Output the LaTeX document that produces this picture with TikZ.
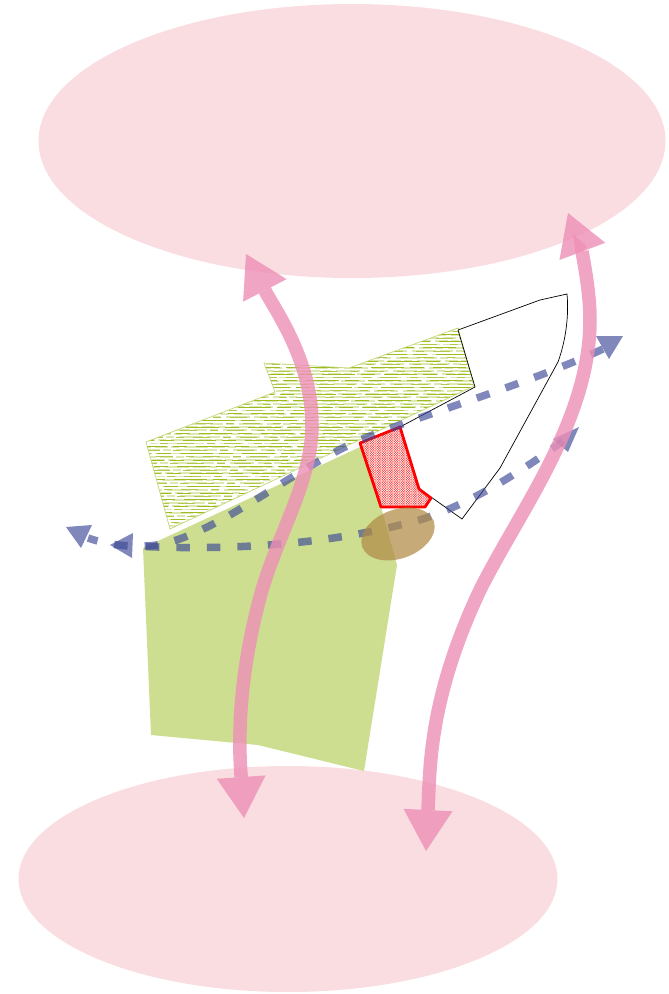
\documentclass[tikz,border=0pt]{standalone}
\usetikzlibrary{arrows.meta,patterns}
\definecolor{blobpink}{HTML}{FADDE1}
\definecolor{leaf}{HTML}{CDDE91}
\definecolor{hatchg}{HTML}{9CBC20}
\definecolor{arrowpink}{HTML}{EE8FB6}
\definecolor{dashblue}{HTML}{3C4896}
\definecolor{brown}{HTML}{B08A45}
\pgfdeclarepatternformonly{finedots}{\pgfqpoint{-0.2pt}{-0.2pt}}{\pgfqpoint{2.2pt}{2.2pt}}{\pgfqpoint{2.4pt}{2.4pt}}{%
  \pgfpathrectangle{\pgfqpoint{0pt}{0pt}}{\pgfqpoint{1.2pt}{1.2pt}}%
  \pgfpathrectangle{\pgfqpoint{1.2pt}{1.2pt}}{\pgfqpoint{1.2pt}{1.2pt}}%
  \pgfusepath{fill}}
\tikzset{
  blob/.style={fill=blobpink,draw=none},
  pinkarrow/.style={draw=arrowpink,line width=13.5pt,draw opacity=.8,fill opacity=.8,
    {Triangle[width=49pt,length=41pt,fill=arrowpink,line width=0pt]}-{Triangle[width=49pt,length=41pt,fill=arrowpink,line width=0pt]}},
  bluedash/.style={draw=dashblue,line width=7.5pt,draw opacity=.65,dash pattern=on 13.5pt off 17pt},
  bluehead/.style={draw=none,fill=dashblue,fill opacity=.65},
}
\begin{document}
\begin{tikzpicture}[x=1pt,y=-1pt]
\useasboundingbox (0,0) rectangle (669,994);
% pink blobs
\fill[blob] (352,141) ellipse [x radius=313.5,y radius=137];
\fill[blob] (288,879) ellipse [x radius=269.5,y radius=113];
% green field
\fill[leaf] (143,548) -- (360,447) -- (381,507) -- (397,565) -- (364,771) -- (258,745) -- (151,735) -- cycle;
% hatched field
\begin{scope}
\clip (146,442) -- (275,392) -- (264,363) -- (349,368) -- (458,328) -- (474,386) -- (170,529) -- cycle;
\foreach \y [count=\i] in {328,331.3,...,530}{
  \pgfmathsetmacro{\off}{mod(\i*37,29)}
  \draw[hatchg!35,line width=1.8pt,dash pattern=on 24pt off 4pt on 13pt off 3pt on 8pt off 5pt,dash phase=\off+7] (140,\y) -- (480,\y);
  \ifodd\i
    \draw[hatchg,line width=1pt,dash pattern=on 33pt off 6pt on 14pt off 9pt,dash phase=\off] (140,\y) -- (480,\y);
  \else
    \draw[hatchg!80,line width=.8pt,dash pattern=on 8pt off 9pt on 17pt off 13pt,dash phase=\off] (140,\y) -- (480,\y);
  \fi
}
\end{scope}
\draw[leaf!80!hatchg,line width=.7pt] (146,442) -- (275,392) -- (264,363) -- (349,368) -- (458,328) -- (474,386) -- (170,529) -- cycle;
% black outline
\draw[black,line width=.7pt] (458,330) -- (540,300) -- (567,294) .. controls (569,315) and (566,340) .. (558,362) -- (500,468) -- (462,519) -- (431,497);
\draw[black,line width=.7pt] (458,330) -- (475,387) -- (400,427);
% red patch
\fill[white] (360,443) -- (400,427) -- (419,489) -- (431,498) -- (425,507) -- (381,507) -- cycle;
\fill[pattern=finedots,pattern color=red!70!white] (360,443) -- (400,427) -- (419,489) -- (431,498) -- (425,507) -- (381,507) -- cycle;
\draw[red,line width=2.8pt,line join=round] (360,443) -- (400,427) -- (419,489) -- (431,498) -- (425,507) -- (381,507) -- cycle;
% blue dashed arrows
\coordinate (a1) at (603,349);
\coordinate (a2) at (88,538);
\coordinate (b1) at (563,441);
\coordinate (b2) at (133,546);
\draw[bluedash] (a1) .. controls (525,385) and (430,412) .. (360,440) .. controls (290,470) and (205,545) .. (145,546) .. controls (125,547) and (105,544) .. (a2);
\draw[bluedash] (b1) .. controls (510,480) and (450,515) .. (400,525) .. controls (340,540) and (250,552) .. (b2);
\path[bluehead] (623,336) -- (596,336) -- (609,359) -- cycle;
\path[bluehead] (579,427) -- (553,439) -- (568,452) -- cycle;
\path[bluehead] (66,527) -- (92,525) -- (81,548) -- cycle;
\path[bluehead] (110,545) -- (133,533) -- (132,558) -- cycle;
% brown ellipse
\fill[brown,opacity=.72,rotate around={20:(398,534)}] (398,534) ellipse [x radius=38,y radius=24.5];
% pink arrows
\coordinate (p1) at (244,818);
\coordinate (p2) at (246,254);
\coordinate (q1) at (426,851);
\coordinate (q2) at (568,213);
\draw[pinkarrow] (p1) .. controls (240,760) and (234,690) .. (262,590) .. controls (280,530) and (312,480) .. (312,425) .. controls (312,360) and (275,310) .. (p2);
\draw[pinkarrow] (q1) .. controls (430,770) and (428,700) .. (480,590) .. controls (520,510) and (590,420) .. (590,320) .. controls (590,285) and (580,245) .. (q2);
\end{tikzpicture}
\end{document}
